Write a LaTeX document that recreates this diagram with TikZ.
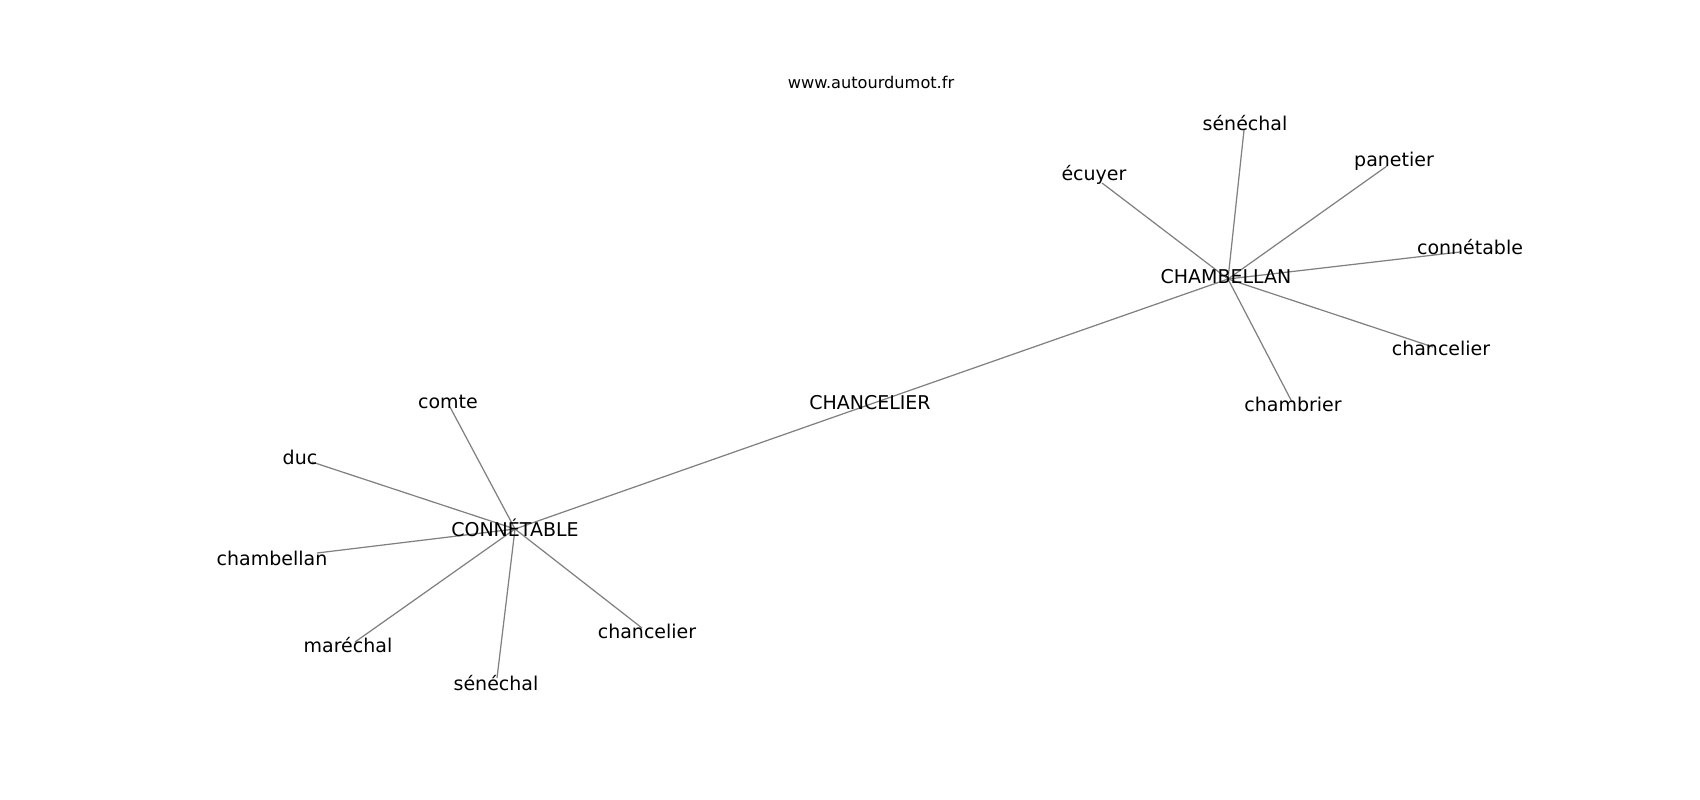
\documentclass[tikz,border=0pt]{standalone}
\usepackage{fontspec}
\setmainfont{DejaVu Sans}
\usepackage[dvipsnames]{xcolor}
\definecolor{edgeGrey}{HTML}{808080}
\definecolor{wordBlack}{HTML}{000000}

\begin{document}
\begin{tikzpicture}[x=0.01cm, y=-0.01cm,
    word/.style={font=\fontsize{5.4}{6.5}\selectfont, text=wordBlack, inner sep=0pt},
    link/.style={draw=edgeGrey, line width=0.35pt}]
    \useasboundingbox (0,0) rectangle (1700,800);
    \node[font=\fontsize{4.6}{5.5}\selectfont, inner sep=0pt] (site) at (871,82) {www.autourdumot.fr};
    % hubs
    \coordinate (connetableHub) at (515,529);
    \coordinate (chancelierHub) at (871,404);
    \coordinate (chambellanHub) at (1228,279);
    % leaves
    \foreach \name/\x/\y in {ecuyer/1102/183, senechalTop/1244/130, panetier/1387/166,
            connetableLeaf/1460/252, chancelierRight/1433/347, chambrier/1292/402}{
        \coordinate (\name) at (\x,\y);
        \draw[link] (chambellanHub) -- (\name);
    }
    \foreach \name/\x/\y in {comte/450/407, duc/312/462, chambellanLeaf/317/553,
            marechal/355/642, senechalLow/497/678, chancelierLow/642/628}{
        \coordinate (\name) at (\x,\y);
        \draw[link] (connetableHub) -- (\name);
    }
    \draw[link] (connetableHub) -- (chancelierHub) -- (chambellanHub);
    % labels
    \node[word] (connetableText) at (515,528) {CONNÉTABLE};
    \node[word] (chancelierText) at (870,403) {CHANCELIER};
    \node[word] (chambellanText) at (1226,277) {CHAMBELLAN};
    \node[word] (ecuyerText) at (1094,175) {écuyer};
    \node[word] (senechalTopText) at (1245,123) {sénéchal};
    \node[word] (panetierText) at (1394,161) {panetier};
    \node[word] (connetableLeafText) at (1470,247) {connétable};
    \node[word] (chancelierRightText) at (1441,348) {chancelier};
    \node[word] (chambrierText) at (1293,404) {chambrier};
    \node[word] (comteText) at (448,402) {comte};
    \node[word] (ducText) at (300,457) {duc};
    \node[word] (chambellanLeafText) at (272,558) {chambellan};
    \node[word] (marechalText) at (348,645) {maréchal};
    \node[word] (senechalLowText) at (496,683) {sénéchal};
    \node[word] (chancelierLowText) at (647,631) {chancelier};
\end{tikzpicture}
\end{document}
